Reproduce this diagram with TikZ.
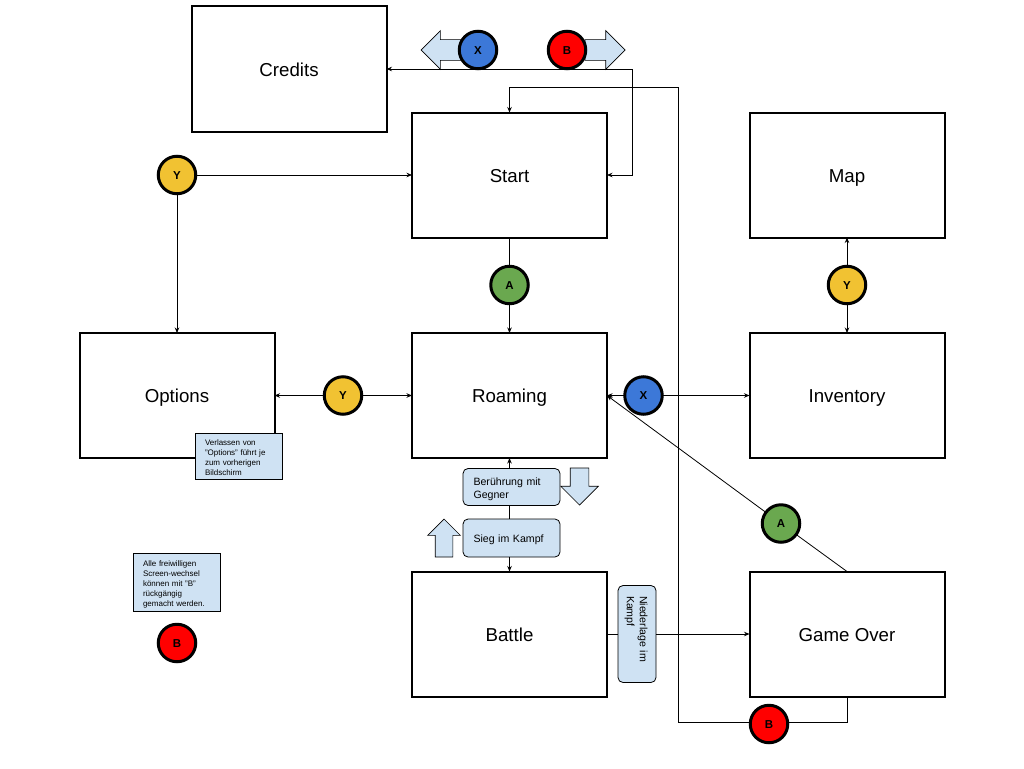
\documentclass[tikz,border=0pt]{standalone}
\usepackage{fontspec}
\setmainfont{Liberation Sans}
\usetikzlibrary{arrows.meta,shapes.arrows}

\definecolor{NoteBlue}{HTML}{CFE2F3}
\definecolor{ButtonBlue}{HTML}{3C78D8}
\definecolor{ButtonRed}{HTML}{FF0000}
\definecolor{ButtonGreen}{HTML}{6AA84F}
\definecolor{ButtonYellow}{HTML}{F1C232}

\begin{document}
\begin{tikzpicture}[
		x=1pt, y=-1pt,
		>={Stealth[length=5.5pt, width=4.5pt]},
		line width=0.8pt,
		ScreenStyle/.style={draw, line width=2pt, minimum width=195pt, minimum height=125pt,
			outer sep=0pt, text height=14pt, text depth=0pt, font=\fontsize{18.7}{22}\selectfont},
		ButtonStyle/.style={circle, draw, line width=3pt, minimum size=37.5pt, inner sep=0pt,
			outer sep=0pt, text height=8.5pt, text depth=0pt, font=\bfseries\fontsize{11.5}{13}\selectfont},
		NoteStyle/.style={draw, fill=NoteBlue, line width=1pt, outer sep=0pt, inner xsep=10pt,
			inner ysep=0pt, align=left, font=\fontsize{8}{10}\selectfont,
			execute at begin node=\rule{0pt}{10pt}},
		LabelStyle/.style={draw, fill=NoteBlue, line width=0.8pt, rounded corners=5pt, outer sep=0pt,
			inner xsep=10.5pt, inner ysep=0pt, align=left, font=\fontsize{10.6}{13}\selectfont,
			execute at begin node=\rule{0pt}{#1}},
		HintStyle/.style={single arrow, draw, fill=NoteBlue, line width=0.7pt, outer sep=0pt,
			single arrow tip angle=90, anchor=tip},
		]
		% screens
		\node [ScreenStyle] (Credits) at (289,69) {Credits};
		\node [ScreenStyle] (Start) at (509.5,175) {Start};
		\node [ScreenStyle] (Map) at (847,175) {Map};
		\node [ScreenStyle] (Options) at (177,395.5) {Options};
		\node [ScreenStyle] (Roaming) at (509.5,395.5) {Roaming};
		\node [ScreenStyle] (Inventory) at (847,395.5) {Inventory};
		\node [ScreenStyle] (Battle) at (509.5,634) {Battle};
		\node [ScreenStyle] (GameOver) at (847,634) {Game Over};
		
		% hint arrows
		\node [HintStyle, shape border rotate=180, minimum height=40pt, inner sep=10pt,
			single arrow head extend=9pt] (HintLeft) at (421,50) {};
		\node [HintStyle, minimum height=40pt, inner sep=10pt,
			single arrow head extend=9pt] (HintRight) at (625,50) {};
		\node [HintStyle, shape border rotate=270, minimum height=37pt, inner sep=9pt,
			single arrow head extend=9.5pt] (HintDown) at (579.5,505) {};
		\node [HintStyle, shape border rotate=90, minimum height=38pt, inner sep=8.5pt,
			single arrow head extend=7.5pt] (HintUp) at (444,519) {};
		
		% buttons
		\node [ButtonStyle, fill=ButtonBlue] (XCredits) at (478,50) {X};
		\node [ButtonStyle, fill=ButtonRed] (BCredits) at (567,50) {B};
		\node [ButtonStyle, fill=ButtonYellow] (YStart) at (177,175) {Y};
		\node [ButtonStyle, fill=ButtonGreen] (AStart) at (509.5,285) {A};
		\node [ButtonStyle, fill=ButtonYellow] (YMap) at (847,285) {Y};
		\node [ButtonStyle, fill=ButtonYellow] (YOptions) at (343,395.5) {Y};
		\node [ButtonStyle, fill=ButtonBlue] (XInventory) at (643.5,395.5) {X};
		\node [ButtonStyle, fill=ButtonGreen] (AGameOver) at (781,523.5) {A};
		\node [ButtonStyle, fill=ButtonRed] (BHint) at (177,643) {B};
		
		% labels
		\node [LabelStyle=12pt, minimum width=97pt, minimum height=37pt, text width=76pt] (Contact) at (511.5,487) {Berührung mit\\Gegner};
		\node [LabelStyle=12pt, minimum width=97pt, minimum height=38pt, text width=76pt] (Victory) at (511.5,538) {Sieg im Kampf};
		\node [LabelStyle=9.5pt, rotate=-90, minimum width=97pt, minimum height=38pt, text width=76pt] (Defeat) at (637,634) {Niederlage im\\Kampf};
		\node [NoteStyle, minimum width=87pt, minimum height=46pt, text width=67pt] (NoteOptions) at (238.5,456) {Verlassen von\\"Options" führt je\\zum vorherigen\\Bildschirm};
		\node [NoteStyle, minimum width=87pt, minimum height=58pt, text width=67pt] (NoteUndo) at (176.5,582) {Alle freiwilligen\\Screen-wechsel\\können mit "B"\\rückgängig\\gemacht werden.};
		
		% connectors
		\coordinate (TurnCredits) at (632,69);
		\coordinate (TurnTop) at (678,87);
		\coordinate (TurnBottom) at (678,722);
		\draw [<->] (Credits.east) -- (TurnCredits) |- (Start.east);
		\draw [->] (YStart) -- (Start.west);
		\draw [->] (YStart) -- (Options.north);
		\draw (Start.south) -- (AStart);
		\draw [->] (AStart) -- (Roaming.north);
		\draw [->] (YMap) -- (Map.south);
		\draw [->] (YMap) -- (Inventory.north);
		\draw [->] (YOptions) -- (Options.east);
		\draw [->] (YOptions) -- (Roaming.west);
		\draw [->] (XInventory) -- (Roaming.east);
		\draw [->] (XInventory) -- (Inventory.west);
		\draw [->] (Contact.north -| Roaming.south) -- (Roaming.south);
		\draw (Contact.south -| Roaming.south) -- (Victory.north -| Roaming.south);
		\draw [->] (Victory.south -| Roaming.south) -- (Battle.north);
		\draw (Battle.east) -- (Defeat);
		\draw [->] (Defeat) -- (GameOver.west);
		\draw (GameOver.north) -- (AGameOver);
		\draw [->] (AGameOver) -- (Roaming.east);
		\draw [->] (GameOver.south) |- (TurnBottom) -- (TurnTop) -| (Start.north);
		\node [ButtonStyle, fill=ButtonRed] (BGameOver) at (769,724) {B};
		
		\useasboundingbox (0,0) rectangle (1024,768);
		\end{tikzpicture}
\end{document}
